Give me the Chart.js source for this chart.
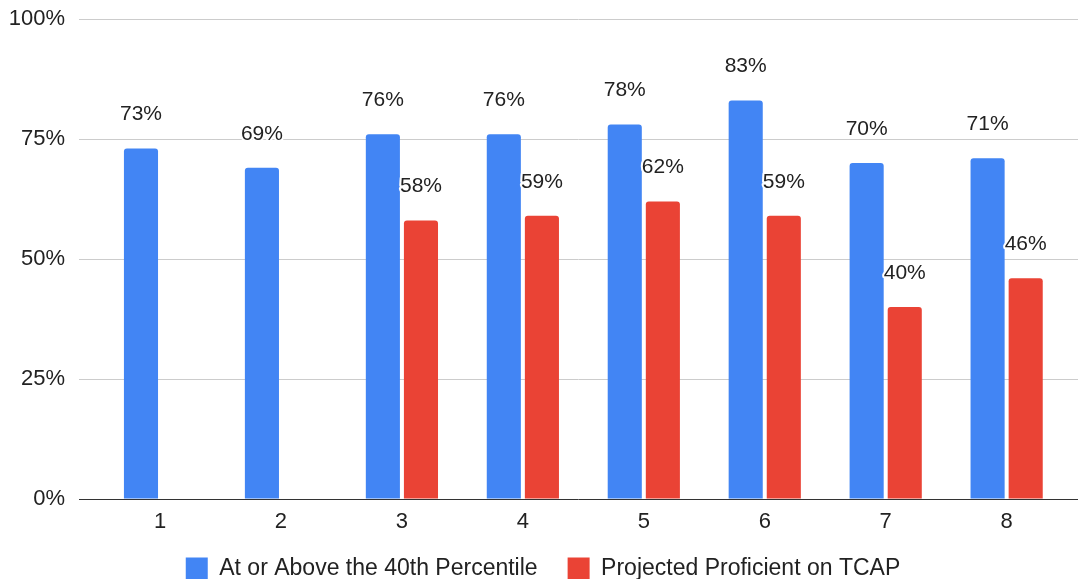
<!DOCTYPE html>
<html>
<head>
<meta charset="utf-8">
<script src="https://cdn.jsdelivr.net/npm/chart.js@4"></script>
<style>
  html, body { margin: 0; padding: 0; background: #fff; }
  #wrap { width: 1078px; height: 579px; }
</style>
</head>
<body>
<div id="wrap"><canvas id="chart"></canvas></div>
<script>
const grades = ['1', '2', '3', '4', '5', '6', '7', '8'];
const above40th = [73, 69, 76, 76, 78, 83, 70, 71];
const proficientTcap = [null, null, 58, 59, 62, 59, 40, 46];
const yTicks = [0, 25, 50, 75, 100];

const FONT = '"Liberation Sans", Arial, Helvetica, sans-serif';

// points on a linear x axis so the groups can sit inside wider gridlines
const toPoints = arr => arr.map((v, i) => ({ x: i + 1, y: v }));

// value labels above each bar, white halo like the original
const barLabels = {
  id: 'barLabels',
  afterDatasetsDraw(chart) {
    const ctx = chart.ctx;
    ctx.save();
    ctx.font = '21px ' + FONT;
    ctx.textAlign = 'center';
    ctx.textBaseline = 'middle';
    ctx.lineJoin = 'round';
    chart.data.datasets.forEach((ds, i) => {
      chart.getDatasetMeta(i).data.forEach((bar, j) => {
        const v = ds.data[j].y;
        if (v == null) return;
        const txt = v + '%';
        ctx.strokeStyle = '#fff';
        ctx.lineWidth = 4;
        ctx.strokeText(txt, bar.x, bar.y - 34);
        ctx.fillStyle = '#222';
        ctx.fillText(txt, bar.x, bar.y - 34);
      });
    });
    ctx.restore();
  }
};

// legend padding also sets the item gap, so pull the legend up a bit afterwards
const legendNudge = {
  id: 'legendNudge',
  afterLayout(chart) {
    const lg = chart.legend;
    lg.top -= 10; lg.bottom -= 10;
    lg.left += 4; lg.right += 4;
  }
};

new Chart(document.getElementById('chart'), {
  type: 'bar',
  data: {
    datasets: [{
      label: 'At or Above the 40th Percentile',
      data: toPoints(above40th),
      backgroundColor: '#4285F4',
      borderRadius: 3,
      categoryPercentage: 0.63,
      barPercentage: 0.895,
    }, {
      label: 'Projected Proficient on TCAP',
      data: toPoints(proficientTcap),
      backgroundColor: '#EA4335',
      borderRadius: 3,
      categoryPercentage: 0.63,
      barPercentage: 0.895,
    }]
  },
  options: {
    responsive: true,
    maintainAspectRatio: false,
    animation: false,
    layout: { padding: { top: 19, bottom: -21, left: 0, right: 0 } },
    plugins: {
      tooltip: { enabled: false },
      legend: {
        position: 'bottom',
        labels: {
          boxWidth: 22,
          boxHeight: 22,
          padding: 30,
          color: '#222',
          font: { family: FONT, size: 23 }
        }
      }
    },
    scales: {
      x: {
        type: 'linear',
        offset: false,
        min: 0.33,
        max: 8.59,
        grid: { display: false },
        border: { display: false },
        ticks: {
          padding: 1.8,
          color: '#222',
          maxRotation: 0,
          autoSkip: false,
          font: { family: FONT, size: 22 },
          callback: v => grades[v - 1]
        },
        afterBuildTicks: s => { s.ticks = grades.map((g, i) => ({ value: i + 1 })); }
      },
      y: {
        min: 0,
        max: 100,
        border: { display: false },
        grid: {
          drawTicks: false,
          color: c => c.tick.value === 0 ? '#333' : '#cccccc',
          lineWidth: 1
        },
        ticks: {
          padding: 14,
          color: '#222',
          font: { family: FONT, size: 22 },
          callback: v => v + '%'
        },
        afterBuildTicks: s => { s.ticks = yTicks.map(v => ({ value: v })); },
        afterFit: s => {
          s.width = 79;
          s.paddingTop = 0;
          s.paddingBottom = 0;
        }
      }
    }
  },
  plugins: [barLabels, legendNudge]
});
</script>
</body>
</html>
